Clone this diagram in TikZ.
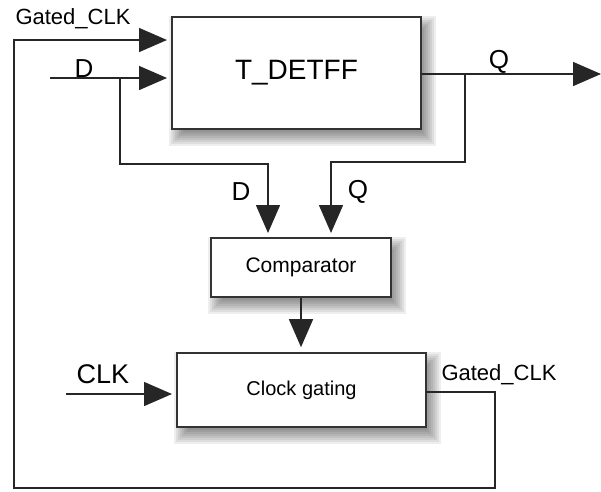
\documentclass[tikz,border=0pt]{standalone}
\usepackage{fontspec}
\setmainfont{Liberation Sans}
\usetikzlibrary{positioning,arrows.meta,calc,backgrounds}

\begin{document}
\begin{tikzpicture}[
    x=1pt, y=-1pt,
    box/.style={draw=black!80, line width=1.6pt, fill=white, align=center, inner sep=0pt},
    wire/.style={line width=1.5pt, draw=black!85},
    arr/.style={wire, -{Triangle[length=28pt, width=24pt]}, shorten >=5pt},
    lbl/.style={anchor=base, inner sep=0pt, font=\fontsize{26}{30}\selectfont},
    small/.style={anchor=base, inner sep=0pt, font=\fontsize{22}{26}\selectfont},
  ]
    \useasboundingbox (0,0) rectangle (601,491);

    \node[box, minimum width=249pt, minimum height=112pt, font=\fontsize{28}{34}\selectfont] (ff) at (296.5,73) {T\_DETFF};
    \node[box, minimum width=180pt, minimum height=59pt, font=\fontsize{21}{25}\selectfont] (cmp) at (301,267.5) {Comparator};
    \node[box, minimum width=249pt, minimum height=74pt, font=\fontsize{20}{24}\selectfont] (cg) at (301.5,390) {Clock gating};

    % soft shadows behind the boxes
    \begin{scope}[on background layer]
      \foreach \b in {ff,cmp,cg}
        \foreach \r in {-10,-8,...,8}
          \fill[black, opacity=0.065] ([shift={({6-(\r)},{8-(\r)})}]\b.north west) rectangle ([shift={({6+\r},{8+\r})}]\b.south east);
    \end{scope}

    \coordinate (ffclk) at (172,40);
    \coordinate (din) at (50,78);
    \coordinate (ffd) at (172,78);
    \coordinate (dsplit) at (120,78);
    \coordinate (dturn) at (120,164);
    \coordinate (cmpd) at (268,238);
    \coordinate (ffq) at (421,74);
    \coordinate (qout) at (601,74);
    \coordinate (qsplit) at (465,74);
    \coordinate (qturn) at (465,162);
    \coordinate (cmpq) at (331,238);
    \coordinate (clkin) at (66,394);
    \coordinate (cgclk) at (177,394);
    \coordinate (cgq) at (426,392);
    \coordinate (fbR) at (495,488);
    \coordinate (fbL) at (14,488);

    \draw[arr] (din) -- (ffd);
    \draw[arr] (dsplit) -- (dturn) -| (cmpd);
    \draw[arr, shorten >=0pt] (ffq) -- (qout);
    \draw[arr] (qsplit) -- (qturn) -| (cmpq);
    \draw[arr] (cmp.south) -- (cmp.south |- cg.north);
    \draw[arr] (clkin) -- (cgclk);
    \draw[arr] (cgq) -| (fbR) -- (fbL) |- (ffclk);

    \node[small] (gclkA) at (73,24) {Gated\_CLK};
    \node[lbl] (dA) at (84,77) {D};
    \node[lbl] (qA) at (499,68) {Q};
    \node[lbl] (dB) at (241,200) {D};
    \node[lbl] (qB) at (358,198) {Q};
    \node[lbl, font=\fontsize{27}{32}\selectfont] (clk) at (103,383) {CLK};
    \node[small] (gclkB) at (499,380) {Gated\_CLK};
  \end{tikzpicture}
\end{document}
